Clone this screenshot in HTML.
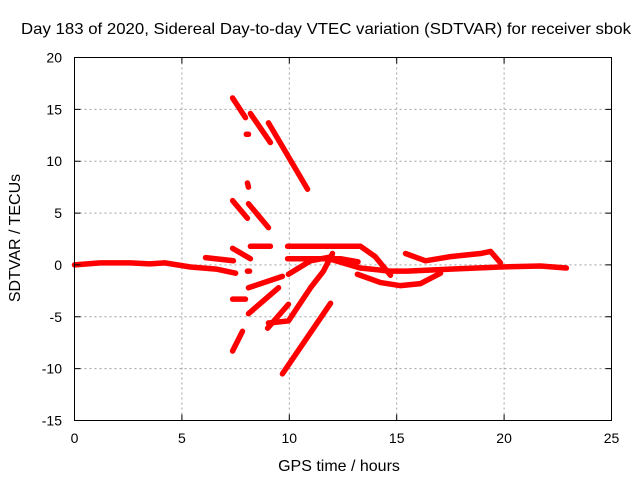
<!DOCTYPE html>
<html><head><meta charset="utf-8">
<style>
html,body{margin:0;padding:0;background:#fff;}
svg{display:block;font-family:"Liberation Sans",Arial,sans-serif;}
</style></head>
<body>
<svg id="chart" width="640" height="480" viewBox="0 0 640 480">
<rect x="0" y="0" width="640" height="480" fill="#fff"/>
<text x="326" y="34" font-size="16" text-anchor="middle" textLength="610" lengthAdjust="spacingAndGlyphs">Day 183 of 2020, Sidereal Day-to-day VTEC variation (SDTVAR) for receiver sbok</text>
<text x="339" y="471" font-size="16" text-anchor="middle">GPS time / hours</text>
<text x="20" y="238" font-size="16" text-anchor="middle" transform="rotate(-90 20 238)">SDTVAR / TECUs</text>
<g id="grid"></g>
<g id="marks"></g>
<rect x="74.5" y="57.5" width="537" height="363" fill="none" stroke="#000" stroke-width="1"/>
<g id="ticks"></g>
</svg>
<script>
const xTicks = [0,5,10,15,20,25];
const yTicks = [-15,-10,-5,0,5,10,15,20];
const seriesA = [[0,0],[1.2,0.2],[2.6,0.2],[3.5,0.1],[4.2,0.2],[5.4,-0.2],[6.6,-0.4],[7.5,-0.8]];
const seriesB = [[6.1,0.7],[7.4,0.4]];
const seriesC = [[7.36,16.1],[7.96,14.2]];
const seriesD = [[8.19,14.6],[9.12,11.8]];
const seriesE = [[9.03,13.7],[10.85,7.3]];
const seriesF = [[8.0,12.6],[8.1,12.6]];
const seriesG = [[8.05,7.9],[8.1,7.5]];
const seriesH = [[7.36,6.2],[8.05,4.5]];
const seriesI = [[8.1,5.9],[9.03,3.6]];
const seriesJ = [[8.19,1.8],[9.12,1.8]];
const seriesK = [[7.36,1.6],[8.19,0.6]];
const seriesL = [[8.05,-0.6],[8.15,-0.6]];
const seriesM = [[8.1,-2.2],[9.68,-1.1]];
const seriesN = [[7.36,-3.3],[7.96,-3.3]];
const seriesO = [[8.1,-4.7],[9.5,-2.2]];
const seriesP = [[8.99,-6.1],[9.96,-3.8]];
const seriesQ = [[9.03,-5.6],[9.96,-5.4],[10.99,-2.2],[11.59,-0.6],[12.01,1.1]];
const seriesR = [[9.68,-10.5],[11.92,-3.7]];
const seriesS = [[9.96,-0.9],[10.99,0.4],[12.0,0.8]];
const seriesT = [[7.36,-8.3],[7.82,-6.4]];
const seriesU = [[9.92,1.8],[13.31,1.8],[14.0,0.8],[14.71,-1.0]];
const seriesV = [[9.92,0.6],[12.38,0.6],[13.2,0.3]];
const seriesW = [[13.17,-0.9],[14.25,-1.7],[15.18,-2.0],[16.11,-1.8],[17.04,-0.8]];
const seriesX = [[12.0,0.5],[13.3,-0.3],[14.7,-0.6],[15.5,-0.6],[17.5,-0.4],[19.83,-0.2],[21.69,-0.1],[22.9,-0.3]];
const seriesY = [[15.41,1.1],[16.34,0.4],[17.5,0.8],[18.9,1.1],[19.37,1.3],[19.83,0.2]];
const allSeries = [seriesA,seriesB,seriesC,seriesD,seriesE,seriesF,seriesG,seriesH,seriesI,seriesJ,seriesK,seriesL,seriesM,seriesN,seriesO,seriesP,seriesQ,seriesR,seriesS,seriesT,seriesU,seriesV,seriesW,seriesX,seriesY];

const NS="http://www.w3.org/2000/svg";
const X0=74.5,X1=611.5,Y0=420.5,Y1=57.5;
function xs(h){return X0+(h-0)/(25-0)*(X1-X0);}
function ys(v){return Y0-(v+15)/(20+15)*(Y0-Y1);}
const grid=document.getElementById('grid'),ticks=document.getElementById('ticks'),marks=document.getElementById('marks');
xTicks.forEach(t=>{
  const x=xs(t);
  if(t>0&&t<25){const g=document.createElementNS(NS,'line');g.setAttribute('x1',x);g.setAttribute('x2',x);g.setAttribute('y1',Y1);g.setAttribute('y2',Y0);g.setAttribute('stroke','#a0a0a0');g.setAttribute('stroke-dasharray','2,3');
  
  grid.appendChild(g);}
  const tk=document.createElementNS(NS,'path');tk.setAttribute('d',`M${x},${Y0}v-6M${x},${Y1}v6`);tk.setAttribute('stroke','#000');
  
  ticks.appendChild(tk);
  const l=document.createElementNS(NS,'text');l.setAttribute('x',x);l.setAttribute('y',443);l.setAttribute('font-size','14');l.setAttribute('text-anchor','middle');l.textContent=t;
  
  ticks.appendChild(l);
});
yTicks.forEach(t=>{
  const y=ys(t);
  if(t>-15&&t<20){const g=document.createElementNS(NS,'line');g.setAttribute('x1',X0);g.setAttribute('x2',X1);g.setAttribute('y1',y);g.setAttribute('y2',y);g.setAttribute('stroke','#a0a0a0');g.setAttribute('stroke-dasharray','2,3');
  
  grid.appendChild(g);}
  const tk=document.createElementNS(NS,'path');tk.setAttribute('d',`M${X0},${y}h6M${X1},${y}h-6`);tk.setAttribute('stroke','#000');
  
  ticks.appendChild(tk);
  const l=document.createElementNS(NS,'text');l.setAttribute('x',62);l.setAttribute('y',y+5);l.setAttribute('font-size','14');l.setAttribute('text-anchor','end');l.textContent=t;
  
  ticks.appendChild(l);
});
allSeries.forEach(s=>{
  const p=document.createElementNS(NS,'polyline');
  p.setAttribute('points',s.map(d=>xs(d[0])+','+ys(d[1])).join(' '));
  p.setAttribute('fill','none');p.setAttribute('stroke','#ff0000');p.setAttribute('stroke-width','5.5');p.setAttribute('stroke-linecap','round');p.setAttribute('stroke-linejoin','round');
  
  
  marks.appendChild(p);
});
</script>
</body></html>
